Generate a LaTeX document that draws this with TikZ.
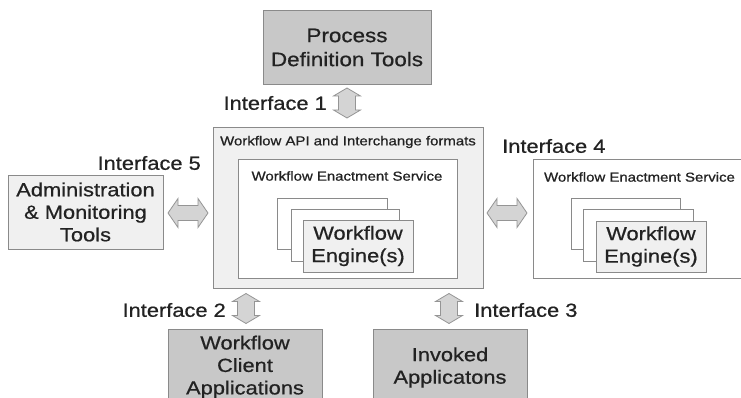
\documentclass[tikz,border=0pt]{standalone}
\usepackage{fontspec}
\newfontfamily\labfont[FakeStretch=1.15,FakeBold=0.7]{Liberation Sans}
\definecolor{boxline}{HTML}{8A8A8A}
\definecolor{darkfill}{HTML}{C8C8C8}
\definecolor{lightfill}{HTML}{F0F0F0}
\definecolor{arrowfill}{HTML}{D4D4D4}
\definecolor{arrowline}{HTML}{959595}
\definecolor{txt}{HTML}{222222}
\newcommand{\vdarrow}[1]{\draw[blockarrow] (#1) ++(0,-15) -- ++(13.5,8) -- ++(-5,0) -- ++(0,14) -- ++(5,0) -- ++(-13.5,8) -- ++(-13.5,-8) -- ++(5,0) -- ++(0,-14) -- ++(-5,0) -- cycle;}
\newcommand{\hdarrow}[1]{\draw[blockarrow] (#1) ++(-20,0) -- ++(10,-14.5) -- ++(0,7) -- ++(20,0) -- ++(0,-7) -- ++(10,14.5) -- ++(-10,14.5) -- ++(0,-7) -- ++(-20,0) -- ++(0,7) -- cycle;}
\begin{document}
\begin{tikzpicture}[x=1pt,y=-1pt,
  every node/.style={font=\labfont\fontsize{19}{22.5}\selectfont, text=txt},
  box/.style={draw=boxline, line width=0.9pt, inner sep=0pt, align=center},
  darkbox/.style={box, fill=darkfill},
  lightbox/.style={box, fill=lightfill},
  whitebox/.style={box, fill=white},
  small/.style={font=\labfont\fontsize{13}{15}\selectfont},
  iflabel/.style={inner sep=0pt},
  blockarrow/.style={draw=arrowline, fill=arrowfill, line width=0.8pt, line join=miter}
]
\useasboundingbox (0,0) rectangle (741,398);
\clip (0,0) rectangle (741,398);
\fill[white] (0,0) rectangle (741,398);

% top
\node[darkbox, minimum width=168, minimum height=74, font=\labfont\fontsize{19.5}{24}\selectfont] (pdt) at (347,47.5) {Process\\Definition Tools};

% central API box
\node[lightbox, minimum width=270, minimum height=161] (api) at (348,207.5) {};
\node[small, inner sep=0pt] (apilab) at (348,142) {Workflow API and Interchange formats};
\node[whitebox, minimum width=219, minimum height=119] (wes) at (347.5,218.5) {};
\node[small, inner sep=0pt] (weslab) at (347,176) {Workflow Enactment Service};
\node[whitebox, minimum width=110, minimum height=51] (e1) at (332,223.5) {};
\node[whitebox, minimum width=108, minimum height=52] (e2) at (345,235) {};
\node[lightbox, minimum width=110, minimum height=52] (e3) at (358,246) {Workflow\\Engine(s)};

% right enactment service
\node[whitebox, minimum width=215, minimum height=119] (wesr) at (640.5,218.5) {};
\node[small, inner sep=0pt] (wesrlab) at (639.5,177) {Workflow Enactment Service};
\node[whitebox, minimum width=109, minimum height=51] (r1) at (625.5,223.5) {};
\node[whitebox, minimum width=110, minimum height=52] (r2) at (638,235) {};
\node[lightbox, minimum width=110, minimum height=51] (r3) at (651,246.5) {Workflow\\Engine(s)};

% left admin box
\node[lightbox, minimum width=155, minimum height=74] (adm) at (85.5,212) {Administration\\\& Monitoring\\Tools};

% bottom boxes
\node[darkbox, minimum width=154, minimum height=76] (wca) at (245,367) {Workflow\\Client\\Applications};
\node[darkbox, minimum width=154, minimum height=76] (inv) at (450,367.5) {Invoked\\Applicatons};

% block arrows
\coordinate (a1) at (347,103);
\coordinate (a2) at (246,308.5);
\coordinate (a3) at (449,308.5);
\coordinate (a4) at (507,213);
\coordinate (a5) at (188,213);
\vdarrow{a1}
\vdarrow{a2}
\vdarrow{a3}
\hdarrow{a4}
\hdarrow{a5}

% interface labels
\node[iflabel, anchor=east] (if1) at (327,103) {Interface 1};
\node[iflabel, anchor=east] (if5) at (201,163) {Interface 5};
\node[iflabel, anchor=west] (if4) at (502,146) {Interface 4};
\node[iflabel, anchor=east] (if2) at (226,310) {Interface 2};
\node[iflabel, anchor=west] (if3) at (474,310) {Interface 3};
\end{tikzpicture}
\end{document}
